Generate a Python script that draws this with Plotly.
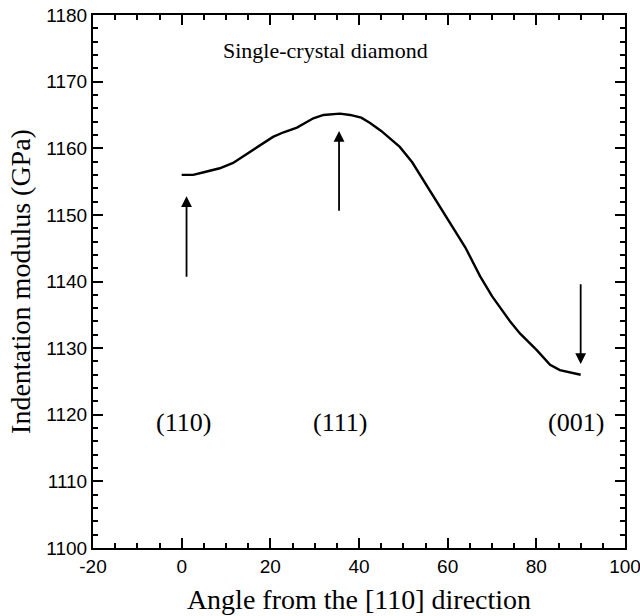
import plotly.graph_objects as go

angle = [0, 2.6, 5, 8.6, 11.6, 15.4, 18, 20.6, 23, 26, 29.7, 32, 35.7, 38, 40.5, 42.5, 45, 49.2, 52, 56, 61.2, 64, 67.3, 70, 74.1, 76.3, 80.1, 83.1, 85.3, 90]
modulus = [1156, 1156, 1156.4, 1157, 1157.8, 1159.5, 1160.6, 1161.7, 1162.4, 1163.1, 1164.5, 1165.0, 1165.2, 1165.0, 1164.6, 1163.8, 1162.6, 1160.2, 1157.9, 1153.7, 1148.2, 1145.1, 1140.8, 1137.8, 1134.0, 1132.2, 1129.7, 1127.5, 1126.7, 1126]

arrow_x = [1.1, 35.5, 90]
arrow_tail = [1140.5, 1150.4, 1139.8]
arrow_tip = [1152.8, 1162.6, 1127.6]

plane_labels = ["(110)", "(111)", "(001)"]
plane_x = [0.3, 35.7, 89]
plane_y = 1118.8

title_text = "Single-crystal diamond"

x_ticks = [-20, 0, 20, 40, 60, 80, 100]
x_ticklabels = ["-20", "0", "20", "40", "60", "80", "100"]
y_ticks = [1100, 1110, 1120, 1130, 1140, 1150, 1160, 1170, 1180]
y_ticklabels = [str(v) for v in y_ticks]

serif = "Liberation Serif, Times New Roman, serif"
sans = "Liberation Sans, Arial, sans-serif"

fig = go.Figure()
fig.add_trace(go.Scatter(x=angle, y=modulus, mode="lines",
                         line=dict(color="black", width=2.4), showlegend=False))

for xa, yt, yh in zip(arrow_x, arrow_tail, arrow_tip):
    fig.add_annotation(x=xa, y=yh, ax=xa, ay=yt, xref="x", yref="y", axref="x", ayref="y",
                       text="", showarrow=True, arrowhead=2, arrowsize=1.2, arrowwidth=1.8,
                       arrowcolor="black")

for lab, xp in zip(plane_labels, plane_x):
    fig.add_annotation(x=xp, y=plane_y, text=lab, showarrow=False,
                       font=dict(family=serif, size=26, color="black"))

fig.add_annotation(x=32.4, y=1174.7, text=title_text, showarrow=False,
                   font=dict(family=serif, size=22, color="black"))

axis_common = dict(showline=True, linecolor="black", linewidth=2, mirror="allticks",
                   ticks="inside", ticklen=10, tickwidth=2, tickcolor="black",
                   showgrid=False, zeroline=False, ticklabeloverflow="allow", automargin=False,
                   tickfont=dict(family=sans, size=19, color="black"))

fig.update_xaxes(range=[-20, 100], tickmode="array", tickvals=x_ticks, ticktext=x_ticklabels,
                 minor=dict(ticks="inside", ticklen=5, tickwidth=1.5, dtick=5, tick0=0, tickcolor="black"),
                 title=dict(text="Angle from the [110] direction", standoff=14,
                            font=dict(family=serif, size=28, color="black")),
                 **axis_common)
fig.update_yaxes(range=[1100, 1180], tickmode="array", tickvals=y_ticks, ticktext=y_ticklabels,
                 minor=dict(ticks="inside", ticklen=5, tickwidth=1.5, dtick=2, tick0=1100, tickcolor="black"),
                 title=dict(text="Indentation modulus (GPa)", standoff=8,
                            font=dict(family=serif, size=28, color="black")),
                 **axis_common)

fig.update_layout(width=640, height=616, margin=dict(l=93, r=15, t=15, b=68),
                  plot_bgcolor="white", paper_bgcolor="white")

fig.write_html("out.html")
